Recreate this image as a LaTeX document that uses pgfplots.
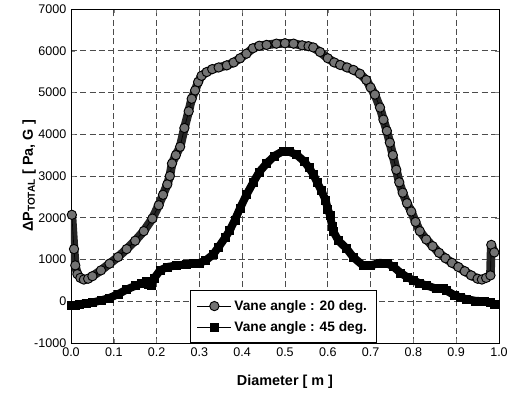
\documentclass[border=0pt]{standalone}
\usepackage{fontspec}
\setmainfont{Liberation Sans}
\usepackage{pgfplots}
\pgfplotsset{compat=1.18}
\usepackage{pgfplotstable}

\pgfplotstableread{
x y
0.002 2070
0.007 1250
0.010 860
0.015 650
0.022 560
0.030 520
0.040 540
0.050 600
0.070 740
0.090 900
0.110 1060
0.130 1250
0.150 1450
0.170 1680
0.190 1980
0.205 2300
0.215 2550
0.225 2800
0.231 3000
0.236 3300
0.245 3500
0.255 3700
0.265 4150
0.275 4550
0.282 4850
0.290 5050
0.297 5250
0.305 5400
0.317 5490
0.330 5560
0.345 5600
0.364 5650
0.380 5720
0.395 5820
0.410 5930
0.425 6060
0.440 6120
0.457 6140
0.480 6170
0.500 6180
0.520 6170
0.540 6130
0.555 6110
0.566 6080
0.582 5970
0.600 5820
0.615 5720
0.629 5660
0.645 5600
0.660 5540
0.675 5450
0.690 5300
0.700 5120
0.710 4950
0.722 4640
0.730 4350
0.738 4080
0.745 3800
0.752 3500
0.760 3150
0.767 2850
0.775 2600
0.785 2350
0.795 2150
0.805 1900
0.815 1680
0.830 1480
0.845 1320
0.860 1160
0.875 1030
0.890 920
0.905 820
0.920 720
0.935 620
0.950 540
0.960 520
0.970 560
0.980 620
0.982 1350
0.989 1170
}\seriesA

\pgfplotstableread{
x y
0.000 -100
0.010 -90
0.020 -70
0.035 -50
0.050 -30
0.070 20
0.090 80
0.110 170
0.130 280
0.150 370
0.165 430
0.175 470
0.180 400
0.187 390
0.195 560
0.208 740
0.225 820
0.247 860
0.270 880
0.285 900
0.301 920
0.315 980
0.332 1120
0.345 1300
0.360 1520
0.371 1700
0.383 1950
0.395 2230
0.410 2550
0.426 2850
0.440 3100
0.457 3300
0.475 3480
0.496 3600
0.510 3580
0.527 3510
0.545 3350
0.556 3200
0.566 3040
0.575 2850
0.585 2650
0.595 2420
0.600 2200
0.605 2070
0.610 1800
0.613 1670
0.625 1450
0.644 1260
0.660 1050
0.683 850
0.700 860
0.722 920
0.740 900
0.753 830
0.770 680
0.785 580
0.800 500
0.815 430
0.830 380
0.854 300
0.870 300
0.878 250
0.895 150
0.910 90
0.924 50
0.945 10
0.965 0
0.980 -30
0.988 -65
}\seriesB

\begin{document}
\begin{tikzpicture}
\useasboundingbox (-53.25pt,-40.5pt) rectangle (327.75pt,257.25pt);
\begin{axis}[
  anchor=south west, at={(0,0)},
  scale only axis,
  width=321pt, height=250.5pt,
  xmin=0, xmax=1, ymin=-1000, ymax=7000,
  xtick={0,0.1,...,1.0},
  ytick={-1000,0,...,7000},
  xticklabel style={/pgf/number format/.cd, fixed, fixed zerofill, precision=1},
  yticklabel style={/pgf/number format/.cd, int detect, 1000 sep={}},
  /pgf/number format/assume math mode=true,
  tick label style={font=\fontsize{9.4pt}{11pt}\selectfont},
  tick align=inside,
  major tick length=3pt,
  grid=major,
  major grid style={black!70, line width=0.5pt, dash pattern=on 4.5pt off 2.5pt},
  axis line style={black, line width=0.7pt},
  xlabel={\textbf{Diameter [ m ]}},
  ylabel={\textbf{ΔP\textsubscript{TOTAL} [ Pa, G ]}},
  label style={font=\fontsize{10.8pt}{13pt}\selectfont},
  xlabel style={yshift=-7pt},
  ylabel style={yshift=-8pt},
  legend style={at={(0.278,0)}, anchor=south west, draw=black, line width=0.5pt,
    font=\bfseries\fontsize{10.3pt}{12pt}\selectfont, row sep=3pt,
    inner xsep=5pt, inner ysep=5pt, cells={anchor=west}},
  legend image code/.code={\draw[mark repeat=2,mark phase=2,#1] plot coordinates {(0cm,0cm) (0.45cm,0cm) (0.9cm,0cm)};},
  legend image post style={line width=0.5pt},
]
\addplot[black!85, line width=6.5pt, line join=round, line cap=round, forget plot] table[x=x,y=y] {\seriesA};
\addplot[black, line width=0.5pt, mark=*, mark size=3.5pt,
  mark options={fill=black!55, draw=black, line width=0.7pt}] table[x=x,y=y] {\seriesA};
\addlegendentry{Vane angle : 20 deg.}
\addplot[black, line width=6pt, line join=round, line cap=round, forget plot] table[x=x,y=y] {\seriesB};
\addplot[black, line width=0.5pt, mark=square*, mark size=3pt,
  mark options={fill=black, draw=black}] table[x=x,y=y] {\seriesB};
\addlegendentry{Vane angle : 45 deg.}
\end{axis}
\end{tikzpicture}
\end{document}
